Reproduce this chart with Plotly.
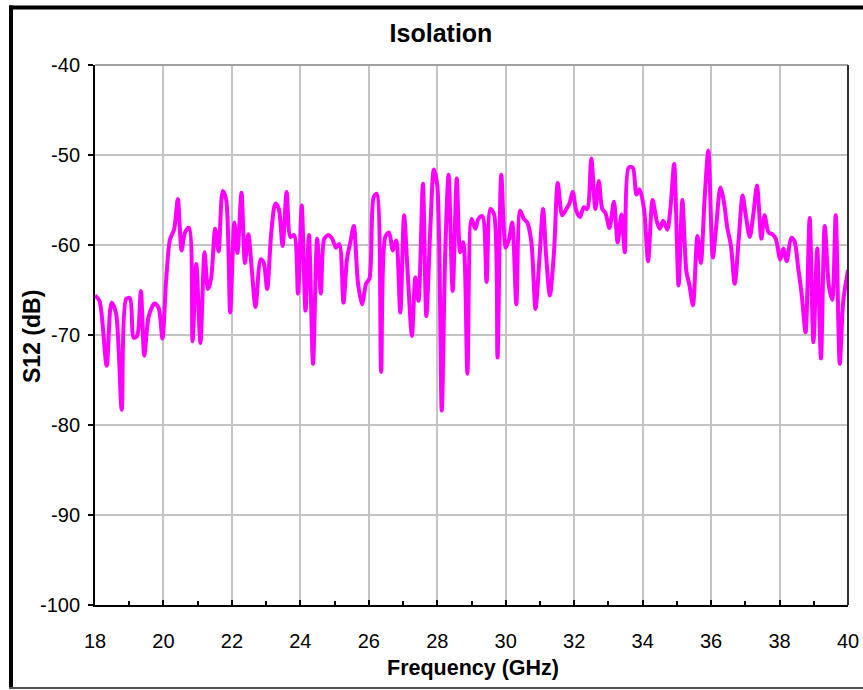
import plotly.graph_objects as go

freq_ghz = [
    18.00, 18.13, 18.34, 18.48, 18.61, 18.78, 18.91, 19.02, 19.13, 19.23,
    19.34, 19.44, 19.57, 19.74, 19.86, 19.97, 20.08, 20.19, 20.31, 20.42,
    20.53, 20.63, 20.75, 20.85, 20.96, 21.08, 21.20, 21.30, 21.39, 21.51,
    21.61, 21.73, 21.83, 21.95, 22.07, 22.16, 22.28, 22.38, 22.48, 22.58,
    22.69, 22.84, 22.93, 23.03, 23.15, 23.27, 23.37, 23.48, 23.60, 23.71,
    23.82, 23.93, 24.04, 24.15, 24.25, 24.37, 24.49, 24.60, 24.70, 24.82,
    24.93, 25.04, 25.14, 25.26, 25.36, 25.46, 25.56, 25.68, 25.80, 25.92,
    26.02, 26.14, 26.23, 26.36, 26.48, 26.59, 26.70, 26.80, 26.92, 27.03,
    27.14, 27.26, 27.36, 27.45, 27.58, 27.68, 27.80, 27.90, 28.00, 28.13,
    28.23, 28.33, 28.45, 28.57, 28.67, 28.76, 28.88, 29.00, 29.11, 29.20,
    29.32, 29.44, 29.55, 29.66, 29.76, 29.87, 30.00, 30.10, 30.19, 30.31,
    30.42, 30.53, 30.63, 30.75, 30.87, 30.99, 31.09, 31.18, 31.29, 31.41,
    31.52, 31.65, 31.77, 31.86, 31.96, 32.06, 32.17, 32.28, 32.38, 32.50,
    32.62, 32.72, 32.82, 32.91, 33.03, 33.16, 33.27, 33.38, 33.48, 33.59,
    33.71, 33.82, 33.91, 34.04, 34.16, 34.29, 34.41, 34.50, 34.60, 34.72,
    34.82, 34.92, 35.05, 35.16, 35.28, 35.37, 35.47, 35.60, 35.70, 35.81,
    35.92, 36.05, 36.15, 36.27, 36.37, 36.47, 36.58, 36.69, 36.81, 36.92,
    37.02, 37.13, 37.24, 37.34, 37.47, 37.56, 37.68, 37.79, 37.89, 38.02,
    38.11, 38.21, 38.34, 38.43, 38.55, 38.65, 38.76, 38.88, 38.99, 39.10,
    39.21, 39.32, 39.44, 39.54, 39.64, 39.76, 39.86, 40.00,
]

s12_db = [
    -65.6, -66.2, -73.4, -66.4, -67.5, -78.3, -66.0, -65.9, -70.3, -70.1,
    -65.1, -72.3, -67.9, -66.5, -67.0, -70.4, -63.8, -59.4, -58.3, -54.9,
    -60.6, -58.6, -58.1, -70.7, -62.1, -70.9, -60.8, -64.9, -63.8, -58.2,
    -60.7, -54.0, -54.9, -67.5, -57.5, -60.9, -54.2, -62.0, -58.8, -62.7,
    -66.9, -61.6, -62.0, -64.9, -58.6, -55.4, -56.0, -60.1, -54.1, -59.1,
    -58.9, -65.4, -55.6, -67.3, -58.9, -73.2, -59.3, -65.4, -59.3, -58.9,
    -59.3, -60.3, -59.9, -66.4, -61.6, -59.7, -57.9, -64.1, -66.6, -64.3,
    -63.7, -54.7, -54.3, -74.1, -59.1, -58.6, -60.6, -59.5, -67.5, -56.7,
    -63.4, -70.1, -63.6, -66.2, -53.2, -67.9, -57.9, -51.6, -53.4, -78.4,
    -61.2, -52.2, -65.1, -52.6, -60.8, -59.7, -74.3, -57.1, -58.2, -57.1,
    -56.8, -64.1, -56.0, -56.6, -72.5, -52.2, -60.3, -59.3, -57.5, -66.6,
    -56.2, -57.1, -57.5, -59.7, -67.1, -61.2, -56.0, -61.2, -65.6, -60.8,
    -53.1, -56.7, -56.0, -55.4, -54.1, -56.2, -56.9, -55.8, -56.0, -50.4,
    -56.0, -52.9, -56.0, -56.4, -58.1, -55.2, -59.7, -56.6, -60.8, -51.4,
    -51.4, -54.4, -53.8, -56.0, -61.8, -55.0, -57.3, -58.2, -57.3, -58.3,
    -55.6, -51.0, -64.5, -55.0, -63.0, -64.5, -66.7, -59.0, -62.0, -54.9,
    -49.5, -61.4, -57.9, -53.6, -55.1, -58.0, -60.1, -64.3, -59.2, -54.5,
    -56.9, -59.1, -56.4, -53.4, -59.3, -56.7, -58.6, -58.8, -59.3, -61.6,
    -60.4, -61.8, -59.2, -59.5, -62.7, -65.6, -69.7, -57.0, -70.8, -60.4,
    -72.6, -57.9, -64.5, -66.1, -56.7, -73.2, -66.3, -62.8,
]

y_tick_vals = [-100, -90, -80, -70, -60, -50, -40]
y_tick_text = ["-100", "-90", "-80", "-70", "-60", "-50", "-40"]
x_tick_vals = [18, 20, 22, 24, 26, 28, 30, 32, 34, 36, 38, 40]

FONT = "Liberation Sans, Arial, sans-serif"

fig = go.Figure()
fig.add_trace(go.Scatter(
    x=freq_ghz, y=s12_db, mode="lines",
    line=dict(color="#FF00FF", width=4, shape="spline", smoothing=0.8),
    showlegend=False, hoverinfo="x+y",
))

W, H = 863, 690
PL, PT, PR, PB = 95, 65, 848, 605   # plot area in window pixels
L, T = PL, PT
R = W - PR
B = H - PB


def px_x(bx):
    return (bx - PL) / (PR - PL)


def px_y(by):
    return (PB - by) / (PB - PT)


fig.update_layout(
    width=W, height=H,
    margin=dict(l=L, r=R, t=T, b=B, autoexpand=False),
    paper_bgcolor="white", plot_bgcolor="white",
    font=dict(family=FONT, color="black", size=18),
    title=dict(text="<b>Isolation</b>", x=441 / W, xref="container", xanchor="center",
               y=1 - 33 / H, yref="container", yanchor="middle",
               font=dict(family=FONT, size=25, color="black")),
    xaxis=dict(
        range=[18, 40], tickvals=x_tick_vals, ticks="inside", ticklen=5,
        tickcolor="black", tickwidth=1.5, automargin=False,
        showline=True, linecolor="black", linewidth=2,
        showgrid=True, gridcolor="#c4c4c4", gridwidth=1.5,
        zeroline=False, ticklabelstandoff=17,
        tickfont=dict(size=20, family=FONT),
        minor=dict(dtick=1, ticks="inside", ticklen=4, tickcolor="black", tickwidth=1.5, showgrid=False),
    ),
    yaxis=dict(
        range=[-100, -40], tickvals=y_tick_vals, ticktext=y_tick_text,
        ticks="outside", ticklen=5, tickcolor="black", tickwidth=1.5, automargin=False,
        showline=True, linecolor="black", linewidth=2,
        showgrid=True, gridcolor="#c4c4c4", gridwidth=1.5,
        zeroline=False, ticklabelstandoff=4,
        tickfont=dict(size=20, family=FONT),
    ),
    annotations=[
        dict(text="<b>Frequency (GHz)</b>", xref="paper", yref="paper",
             x=px_x(473), y=px_y(668), xanchor="center", yanchor="middle",
             showarrow=False, font=dict(size=21.5, family=FONT, color="black")),
        dict(text="<b>S12 (dB)</b>", xref="paper", yref="paper",
             x=px_x(32), y=px_y(337), xanchor="center", yanchor="middle", textangle=-90,
             showarrow=False, font=dict(size=23, family=FONT, color="black")),
    ],
    shapes=[
        # plot area top border (gray) and right border (dark)
        dict(type="line", xref="paper", yref="paper", x0=0, x1=1, y0=1, y1=1,
             line=dict(color="#a0a0a0", width=2), layer="above"),
        dict(type="line", xref="paper", yref="paper", x0=1, x1=1, y0=0, y1=1,
             line=dict(color="#303030", width=2), layer="above"),
        # outer chart frame
        dict(type="line", xref="paper", yref="paper", x0=px_x(11), x1=px_x(11),
             y0=px_y(5.5), y1=px_y(689), line=dict(color="black", width=4)),
        dict(type="line", xref="paper", yref="paper", x0=px_x(9), x1=px_x(880),
             y0=px_y(7.5), y1=px_y(7.5), line=dict(color="black", width=4)),
        dict(type="line", xref="paper", yref="paper", x0=px_x(9), x1=px_x(880),
             y0=px_y(688), y1=px_y(688), line=dict(color="#505050", width=2)),
    ],
)

fig.write_html(
    "out.html",
    config={"displayModeBar": False},
    post_script="document.body.style.margin='0';document.body.style.overflow='hidden';",
)
